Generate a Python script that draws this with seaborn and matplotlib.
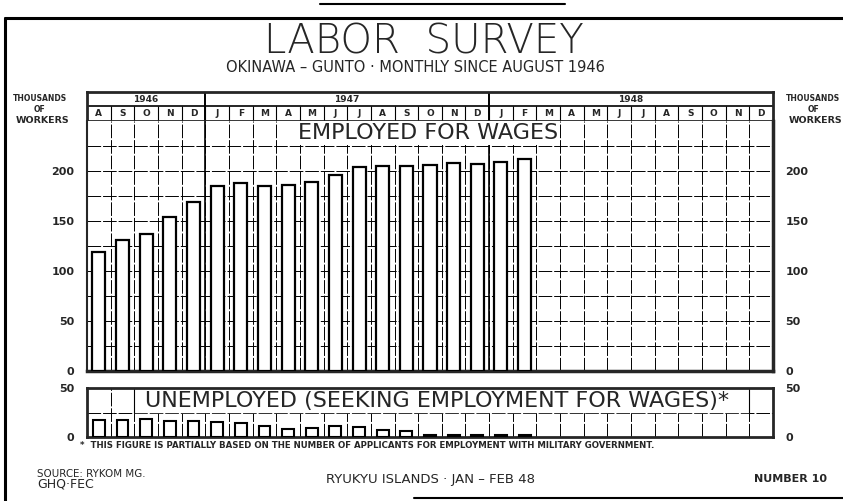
"""Labor survey, Okinawa-Gunto: monthly employed / unemployed since Aug 1946."""

import matplotlib.pyplot as plt
import numpy as np
import pandas as pd
import seaborn as sns
from matplotlib.lines import Line2D

# ---- data -----------------------------------------------------------------
years = ["1946", "1947", "1948"]
months_per_year = [5, 12, 12]
month_letters = ["A", "S", "O", "N", "D",
                 "J", "F", "M", "A", "M", "J", "J", "A", "S", "O", "N", "D",
                 "J", "F", "M", "A", "M", "J", "J", "A", "S", "O", "N", "D"]
month_keys = [f"m{i:02d}" for i in range(len(month_letters))]

# thousands of workers, Aug 1946 .. Feb 1948
employed = [119, 131, 137, 154, 169, 185, 188, 185, 186, 189,
            196, 204, 205, 205, 206, 208, 207, 209, 212]
unemployed = [17, 17, 18, 16, 16, 15, 14, 11, 8, 9,
              11, 10, 7, 6, 2, 2, 2, 2, 2]

main_ticks = [0, 50, 100, 150, 200]
low_ticks = [0, 50]

# ---- figure ----------------------------------------------------------------
W, H = 843, 501
sns.set_style("white")
plt.rcParams["font.family"] = ["DejaVu Sans"]

fig = plt.figure(figsize=(W / 100, H / 100), dpi=100)
fig.patch.set_facecolor("white")


def box(x0, y0, x1, y1):
    """pixel box (top-left origin) -> figure fraction rect"""
    return [x0 / W, 1 - y1 / H, (x1 - x0) / W, (y1 - y0) / H]


def fx(x):
    return x / W


def fy(y):
    return 1 - y / H


n = len(month_keys)
bounds = np.arange(0.5, n - 1)
year_edges = np.cumsum(months_per_year)[:-1] - 0.5
grid_kw = dict(color="black", lw=0.7, linestyles=(0, (14, 2)))

ax_head = fig.add_axes(box(87, 92, 773, 121))
ax = fig.add_axes(box(87, 121, 773, 371))
ax_low = fig.add_axes(box(87, 388, 773, 437))

df = pd.DataFrame({
    "month": month_keys[:len(employed)],
    "employed": employed,
    "unemployed": unemployed,
})

# ---- header with years / months ---------------------------------------------
ax_head.set_xlim(-0.5, n - 0.5)
ax_head.set_ylim(0, 2)
ax_head.hlines(1, -0.5, n - 0.5, color="black", lw=1.2)
ax_head.vlines(bounds, 0, 1, color="black", lw=0.8)
ax_head.vlines(year_edges, 0, 2, color="black", lw=1.4)
start = 0
for yr, cnt in zip(years, months_per_year):
    ax_head.text(start + cnt / 2 - 0.5, 1.5, yr, ha="center", va="center",
                 fontsize=6.5, fontweight="bold")
    start += cnt
for i, m in enumerate(month_letters):
    ax_head.text(i, 0.5, m, ha="center", va="center", fontsize=6.5,
                 fontweight="bold")
ax_head.set_xticks([])
ax_head.set_yticks([])
for s in ax_head.spines.values():
    s.set_linewidth(2)

# ---- employed panel ---------------------------------------------------------
sns.barplot(data=df, x="month", y="employed", order=month_keys, color="white",
            saturation=1, edgecolor="black", linewidth=1.6, width=0.55,
            errorbar=None, ax=ax, zorder=3)
ax.set_xlim(-0.5, n - 0.5)
ax.set_ylim(0, 250)
ax.vlines(bounds, 0, 250, zorder=1, **grid_kw)
ax.vlines(year_edges, 0, 250, color="black", lw=1.2, zorder=1)
ax.hlines(np.arange(25, 250, 25), -0.5, n - 0.5, zorder=1, **grid_kw)
ax.set_yticks(main_ticks)
ax.set_yticklabels([str(t) for t in main_ticks])
ax.set_xticks([])
ax.set_xlabel("")
ax.set_ylabel("")
ax.tick_params(axis="y", length=0, labelleft=True, labelright=True,
               labelsize=8, pad=9)
for lab in ax.get_yticklabels():
    lab.set_fontweight("bold")
ax.spines["top"].set_visible(False)
ax.spines["left"].set_linewidth(1.5)
ax.spines["right"].set_linewidth(2.5)
ax.spines["bottom"].set_linewidth(2.5)
ax.text(13.9, 238, "EMPLOYED FOR WAGES", ha="center", va="center",
        fontsize=16, zorder=5,
        bbox=dict(facecolor="white", edgecolor="none", pad=1.5))

# ---- unemployed panel -------------------------------------------------------
sns.barplot(data=df, x="month", y="unemployed", order=month_keys,
            color="white", saturation=1, edgecolor="black", linewidth=1.5,
            width=0.5, errorbar=None, ax=ax_low, zorder=3)
ax_low.set_xlim(-0.5, n - 0.5)
ax_low.set_ylim(0, 50)
ax_low.vlines(bounds, 0, 50, zorder=1, **grid_kw)
ax_low.hlines(25, -0.5, n - 0.5, zorder=1, **grid_kw)
ax_low.fill_between([1.5, n - 1.5], 25, 50, color="white", zorder=2)
ax_low.vlines([1.5, n - 1.5], 25, 50, color="black", lw=0.8, zorder=2)
ax_low.text(14.3, 36.5, "UNEMPLOYED (SEEKING EMPLOYMENT FOR WAGES)*",
            ha="center", va="center", fontsize=16, zorder=5)
ax_low.set_yticks(low_ticks)
ax_low.set_yticklabels([str(t) for t in low_ticks])
ax_low.set_xticks([])
ax_low.set_xlabel("")
ax_low.set_ylabel("")
ax_low.tick_params(axis="y", length=0, labelleft=True, labelright=True,
                   labelsize=8, pad=9)
for lab in ax_low.get_yticklabels():
    lab.set_fontweight("bold")
for s in ax_low.spines.values():
    s.set_linewidth(2)

# ---- side labels, titles, footer -------------------------------------------
for xc in (40, 813):
    fig.text(fx(xc), fy(98), "THOUSANDS", ha="center", va="center",
             fontsize=5.5, fontweight="bold")
    fig.text(fx(xc), fy(109), "OF", ha="center", va="center",
             fontsize=5.5, fontweight="bold")
    fig.text(fx(xc + 3), fy(121), "WORKERS", ha="center", va="center",
             fontsize=6.8, fontweight="bold")

fig.text(fx(424), fy(42), "LABOR  SURVEY", ha="center", va="center",
         fontsize=29, fontweight="light")
fig.text(fx(415), fy(68), "OKINAWA – GUNTO · MONTHLY SINCE AUGUST 1946",
         ha="center", va="center", fontsize=10.5)

fig.text(fx(80), fy(446),
         "*  THIS FIGURE IS PARTIALLY BASED ON THE NUMBER OF APPLICANTS "
         "FOR EMPLOYMENT WITH MILITARY GOVERNMENT.",
         ha="left", va="center", fontsize=6.2, fontweight="bold")
fig.text(fx(37), fy(474), "SOURCE: RYKOM MG.", ha="left", va="center",
         fontsize=7.4)
fig.text(fx(37), fy(484), "GHQ·FEC", ha="left", va="center", fontsize=9)
fig.text(fx(430), fy(479), "RYUKYU ISLANDS · JAN – FEB 48", ha="center",
         va="center", fontsize=9.5)
fig.text(fx(790), fy(479), "NUMBER 10", ha="center", va="center",
         fontsize=8, fontweight="bold")

# outer border
frame = [((320, 565), (4, 4), 1.5),
         ((5, 843), (18, 18), 2.2),
         ((5, 5), (18, 501), 2.2),
         ((414, 843), (498, 498), 1.5)]
for xs, ys, lw in frame:
    fig.add_artist(Line2D([fx(xs[0]), fx(xs[1])], [fy(ys[0]), fy(ys[1])],
                          color="black", lw=lw))

fig.savefig("out.png", dpi=100)
